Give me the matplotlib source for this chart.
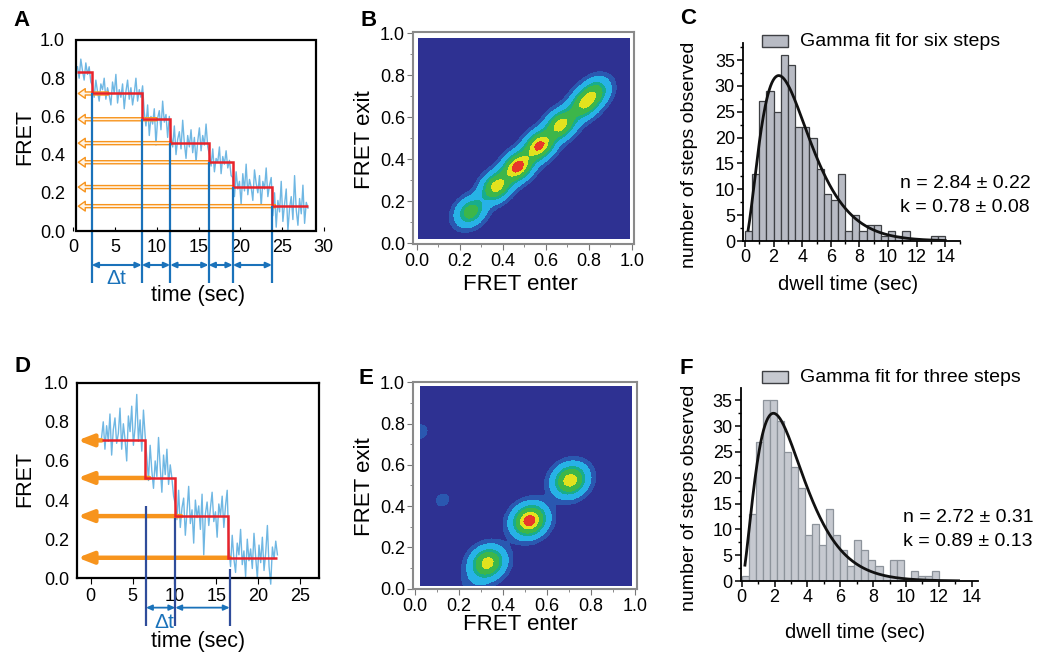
import math
import numpy as np
import matplotlib
matplotlib.use("Agg")
import matplotlib.pyplot as plt
from matplotlib.patches import FancyArrowPatch, Rectangle
from matplotlib.ticker import MultipleLocator

plt.rcParams['font.family'] = ['Liberation Sans', 'DejaVu Sans']

# ---------------- data ----------------
# Panel A: FRET trace (sampled every 0.2 s starting at 0.5 s)
A_t0, A_dt = 0.5, 0.2
A_fret = [0.86, 0.80, 0.90, 0.84, 0.79, 0.88, 0.82, 0.86, 0.78,
          0.76, 0.70, 0.79, 0.73, 0.68, 0.77, 0.74, 0.80, 0.69, 0.75, 0.71, 0.66, 0.78, 0.72, 0.82, 0.67,
          0.74, 0.70, 0.77, 0.64, 0.73, 0.79, 0.69, 0.75, 0.66, 0.72, 0.80, 0.68, 0.74, 0.70, 0.76,
          0.62, 0.55, 0.66, 0.50, 0.60, 0.56, 0.64, 0.45, 0.59, 0.63, 0.53, 0.68, 0.57, 0.61, 0.49, 0.60,
          0.50, 0.44, 0.55, 0.40, 0.48, 0.52, 0.43, 0.58, 0.46, 0.38, 0.50, 0.44, 0.53, 0.41, 0.49, 0.36,
          0.47, 0.54, 0.42, 0.50, 0.45, 0.56, 0.44,
          0.40, 0.34, 0.43, 0.31, 0.38, 0.36, 0.44, 0.30, 0.39, 0.35, 0.42, 0.33, 0.37, 0.29,
          0.28, 0.18, 0.31, 0.22, 0.26, 0.14, 0.30, 0.21, 0.35, 0.19, 0.27, 0.23, 0.16, 0.32, 0.25, 0.20,
          0.29, 0.13, 0.26, 0.22, 0.33, 0.18, 0.24, 0.28,
          0.08, 0.20, 0.02, 0.16, 0.10, 0.26, 0.05, 0.14, 0.22, 0.00, 0.12, 0.18, 0.06, 0.29, 0.11, 0.03,
          0.17, 0.09, 0.24, 0.04, 0.15, 0.12]
A_step_edges = [0.5, 2.2, 8.2, 11.6, 16.2, 19.1, 23.8, 28.1]
A_step_levels = [0.83, 0.72, 0.585, 0.46, 0.36, 0.23, 0.13]
A_arrow_levels = [0.72, 0.585, 0.46, 0.36, 0.23, 0.13]
A_arrow_starts = [4.2, 10.0, 11.8, 16.4, 19.2, 24.2]

# Panel D: FRET trace (sampled every 0.2 s starting at 1.3 s)
D_t0, D_dt = 1.3, 0.2
D_fret = [0.72, 0.80, 0.66, 0.78, 0.70, 0.84, 0.63, 0.76, 0.82, 0.69, 0.74, 0.87, 0.66, 0.79, 0.71,
          0.60, 0.83, 0.75, 0.88, 0.68, 0.77, 0.94, 0.70, 0.81, 0.65, 0.86, 0.73,
          0.62, 0.50, 0.68, 0.55, 0.46, 0.60, 0.52, 0.72, 0.57, 0.44, 0.63, 0.53, 0.66, 0.48, 0.58, 0.51, 0.42,
          0.38, 0.30, 0.45, 0.26, 0.36, 0.41, 0.22, 0.34, 0.47, 0.28, 0.35, 0.18, 0.40, 0.31, 0.37, 0.25,
          0.43, 0.12, 0.33, 0.39, 0.27, 0.36, 0.44, 0.29, 0.34, 0.21, 0.38, 0.32, 0.42, 0.26, 0.37, 0.45,
          0.16, 0.06, 0.22, 0.10, 0.03, 0.18, 0.12, 0.25, 0.07, 0.14, 0.01, 0.20, 0.09, 0.15, 0.05, 0.23,
          0.11, 0.00, 0.17, 0.08, 0.21, 0.04, 0.13, 0.27, 0.06, -0.03, 0.16, 0.10, 0.19, 0.12]
D_step_edges = [1.3, 6.5, 10.1, 16.4, 22.3]
D_step_levels = [0.705, 0.513, 0.318, 0.105]
D_arrow_starts = [1.3, 7.0, 10.8, 16.6]
D_dwell_marks = [6.6, 10.1, 16.6]
D_dwell_tops = [0.37, 0.31, 0.05]

# Panels B / E: TDP peak centres (FRET enter, FRET exit), relative intensity
B_x = [0.25, 0.37, 0.47, 0.57, 0.67, 0.775, 0.83]
B_y = [0.15, 0.27, 0.365, 0.465, 0.565, 0.66, 0.72]
B_amp = [0.58, 0.80, 0.97, 0.93, 0.80, 0.64, 0.52]
E_x = [0.33, 0.52, 0.705, 0.02, 0.125, 0.27]
E_y = [0.125, 0.33, 0.525, 0.76, 0.43, 0.03]
E_amp = [0.80, 1.00, 0.84, 0.065, 0.06, 0.07]

# Panels C / F: dwell-time histograms
C_counts = [2, 13, 27, 29, 25, 36, 34, 22, 22, 20, 14, 9, 8, 13, 2, 5, 2, 3, 3, 1,
            2, 1, 2, 0, 0, 0, 1, 1]
C_range = (0.0, 14.0)
C_n, C_k, C_peak = 2.84, 0.78, 32.0
F_counts = [1, 13, 27, 35, 35, 31, 25, 22, 18, 9, 11, 7, 14, 9, 6, 3, 8, 6, 4, 3,
            1, 4, 4, 0, 2, 1, 1, 2]
F_range = (0.0, 12.0)
F_n, F_k, F_peak = 2.72, 0.89, 32.5

# ---------------- styling ----------------
W, H = 1049, 654
fig = plt.figure(figsize=(W / 100, H / 100), dpi=100)

TRACE = '#6fb7e3'
RED = '#e8232b'
ORANGE = '#f7941d'
BLUE = '#1a72ba'
NAVYLINE = '#2f4c9a'
TICK = 13


def add_ax(l, t, r, b):
    return fig.add_axes([l / W, 1 - b / H, (r - l) / W, (b - t) / H])


def ftext(x, y, s, **kw):
    kw.setdefault('ha', 'center')
    kw.setdefault('va', 'center')
    return fig.text(x / W, 1 - y / H, s, **kw)


# ================= Panel A =================
axA = add_ax(73.3, 40, 323.8, 231)
axA.set_xlim(0, 30)
axA.set_ylim(0, 1)
for s in axA.spines.values():
    s.set_visible(False)
axA.add_patch(Rectangle((0.32, 0), 29.07 - 0.32, 1.0, fill=False, ec='black', lw=1.6,
                        clip_on=False, zorder=5))
tA = A_t0 + A_dt * np.arange(len(A_fret))
axA.plot(tA, A_fret, color=TRACE, lw=1.0, zorder=2)
axA.stairs(A_step_levels, A_step_edges, baseline=None, color=RED, lw=1.8, zorder=4)
for y, x0 in zip(A_arrow_levels, A_arrow_starts):
    axA.add_patch(FancyArrowPatch((x0, y), (0.6, y),
                                  arrowstyle='simple,head_length=0.5,head_width=0.7,tail_width=0.22',
                                  mutation_scale=10, fc='#fff4e6', ec=ORANGE, lw=1.0,
                                  shrinkA=0, shrinkB=0, zorder=3))
dw_A = A_step_edges[1:-1]
axA.vlines(dw_A, -0.272, A_step_levels[1:], color=BLUE, lw=1.6, clip_on=False, zorder=4)
for x1, x2 in zip(dw_A[:-1], dw_A[1:]):
    axA.annotate('', xy=(x2, -0.178), xytext=(x1, -0.178), xycoords='data',
                 arrowprops=dict(arrowstyle='<|-|>,head_length=0.35,head_width=0.16', color=BLUE,
                                 lw=1.5, shrinkA=0, shrinkB=0), annotation_clip=False)
axA.set_xticks([0, 5, 10, 15, 20, 25, 30])
axA.set_yticks([0, 0.2, 0.4, 0.6, 0.8, 1.0])
axA.set_yticklabels(['0.0', '0.2', '0.4', '0.6', '0.8', '1.0'])
axA.tick_params(axis='x', direction='in', length=3, pad=6, labelsize=TICK)
axA.tick_params(axis='y', length=0, pad=6, labelsize=TICK)
ftext(25, 137, 'FRET', rotation=90, fontsize=15.5)
ftext(198, 296, 'time (sec)', fontsize=15.5)
ftext(116, 278, 'Δt', fontsize=15, color=BLUE)

# ================= Panel D =================
axD = add_ax(77.3, 382.7, 319.3, 578.3)
axD.set_xlim(-1.6, 27.3)
axD.set_ylim(0, 1)
for s in axD.spines.values():
    s.set_linewidth(1.6)
tD = D_t0 + D_dt * np.arange(len(D_fret))
axD.plot(tD, D_fret, color=TRACE, lw=1.0, zorder=2, clip_on=False)
axD.stairs(D_step_levels, D_step_edges, baseline=None, color=RED, lw=1.8, zorder=4)
for y, x0 in zip(D_step_levels, D_arrow_starts):
    axD.add_patch(FancyArrowPatch((x0, y), (-1.55, y),
                                  arrowstyle='-|>,head_length=0.9,head_width=0.35',
                                  mutation_scale=10, color=ORANGE, lw=3.2,
                                  shrinkA=0, shrinkB=0, zorder=3))
axD.vlines(D_dwell_marks, -0.244, D_dwell_tops, color=NAVYLINE, lw=1.6, clip_on=False, zorder=4)
for x1, x2 in zip(D_dwell_marks[:-1], D_dwell_marks[1:]):
    axD.annotate('', xy=(x2, -0.15), xytext=(x1, -0.15), xycoords='data',
                 arrowprops=dict(arrowstyle='<|-|>,head_length=0.35,head_width=0.16', color=BLUE,
                                 lw=1.3, shrinkA=0, shrinkB=0), annotation_clip=False)
axD.set_xticks([0, 5, 10, 15, 20, 25])
axD.set_yticks([0, 0.2, 0.4, 0.6, 0.8, 1.0])
axD.set_yticklabels(['0.0', '0.2', '0.4', '0.6', '0.8', '1.0'])
axD.tick_params(axis='x', direction='out', length=4, pad=3, labelsize=TICK)
axD.tick_params(axis='y', length=0, pad=6, labelsize=TICK)
ftext(25, 479, 'FRET', rotation=90, fontsize=15.5)
ftext(198, 642, 'time (sec)', fontsize=15.5)
ftext(164, 622, 'Δt', fontsize=15, color=BLUE)

# ================= Panels B and E (TDP maps) =================
tdp_levels = [-1, 0.05, 0.13, 0.33, 0.46, 0.70, 0.87, 10]
tdp_colors = ['#2e3192', '#2a58b0', '#27b2e6', '#18ad8c', '#3db64a', '#e2e21e', '#e8372a']


def density(px, py, amps, su, sv, X, Y):
    Z = np.zeros_like(X)
    for x0, y0, a in zip(px, py, amps):
        u = ((X - x0) + (Y - y0)) / np.sqrt(2)
        v = ((X - x0) - (Y - y0)) / np.sqrt(2)
        Z += a * np.exp(-0.5 * ((u / su) ** 2 + (v / sv) ** 2))
    return Z


def tdp_axes(ax):
    ax.set_facecolor('white')
    for s in ax.spines.values():
        s.set_color('#8a8a8a')
        s.set_linewidth(1.5)
    ax.xaxis.set_major_locator(MultipleLocator(0.2))
    ax.yaxis.set_major_locator(MultipleLocator(0.2))
    ax.xaxis.set_minor_locator(MultipleLocator(0.1))
    ax.yaxis.set_minor_locator(MultipleLocator(0.1))
    ax.xaxis.set_major_formatter(plt.FormatStrFormatter('%.1f'))
    ax.yaxis.set_major_formatter(plt.FormatStrFormatter('%.1f'))
    ax.tick_params(which='major', direction='out', length=4, color='#777777', labelsize=TICK, pad=2)
    ax.tick_params(which='minor', direction='out', length=2.5, color='#777777')


axB = add_ax(413.3, 32.3, 634, 244.3)
axB.set_xlim(-0.016, 1.01)
axB.set_ylim(-0.005, 1.005)
XB, YB = np.meshgrid(np.linspace(0.01, 0.99, 60), np.linspace(0.022, 0.975, 60))
ZB = density(B_x, B_y, B_amp, 0.05, 0.038, XB, YB)
axB.contourf(XB, YB, ZB, levels=tdp_levels, colors=tdp_colors)
tdp_axes(axB)
ftext(365, 140, 'FRET exit', rotation=90, fontsize=16)
ftext(520, 285, 'FRET enter', fontsize=16)

axE = add_ax(413.3, 381.7, 637.3, 589.3)
axE.set_xlim(-0.008, 1.01)
axE.set_ylim(-0.003, 1.003)
XE, YE = np.meshgrid(np.linspace(0.023, 0.985, 60), np.linspace(0.016, 0.98, 60))
ZE = density(E_x, E_y, E_amp, 0.052, 0.045, XE, YE)
axE.contourf(XE, YE, ZE, levels=tdp_levels, colors=tdp_colors)
tdp_axes(axE)
ftext(365, 487, 'FRET exit', rotation=90, fontsize=16)
ftext(520, 625, 'FRET enter', fontsize=16)


# ================= Panels C and F (histograms) =================
def hist_panel(ax, counts, rng, n, k, peak, ymax, fc, ec, t_start, t_end):
    nb = len(counts)
    edges = np.linspace(rng[0], rng[1], nb + 1)
    ax.bar(edges[:-1], counts, width=np.diff(edges), align='edge', color=fc,
           edgecolor=ec, linewidth=0.9, zorder=2)
    tp = (n - 1) / k
    amp = peak / (tp ** (n - 1) * math.exp(-k * tp))
    tt = np.linspace(t_start, t_end, 300)
    ax.plot(tt, amp * tt ** (n - 1) * np.exp(-k * tt), color='#111111', lw=2.0, zorder=3)
    ax.set_ylim(0, ymax)
    ax.spines['top'].set_visible(False)
    ax.spines['right'].set_visible(False)
    ax.spines['left'].set_linewidth(1.3)
    ax.spines['bottom'].set_linewidth(1.3)
    ax.set_xticks(range(0, 15, 2))
    ax.set_yticks(range(0, 36, 5))
    ax.xaxis.set_minor_locator(MultipleLocator(1))
    ax.yaxis.set_minor_locator(MultipleLocator(2.5))
    ax.tick_params(which='major', direction='out', length=4, width=1.1, labelsize=TICK, pad=2)
    ax.tick_params(which='minor', direction='out', length=2.5, width=1.0)


axC = add_ax(743.3, 43, 960, 241)
axC.set_xlim(-0.12, 15.03)
hist_panel(axC, C_counts, C_range, C_n, C_k, C_peak, 38.3, '#b8bbc4', '#3e4044', 0.22, 14.0)
ftext(690, 155, 'number of steps observed', rotation=90, fontsize=14)
ftext(848, 285, 'dwell time (sec)', fontsize=14.5)
ftext(900, 183, 'n = 2.84 ± 0.22', fontsize=14, ha='left')
ftext(900, 207, 'k = 0.78 ± 0.08', fontsize=14, ha='left')
fig.add_artist(Rectangle((762 / W, 1 - 47 / H), 26 / W, 12 / H, transform=fig.transFigure,
                         fc='#b8bbc4', ec='#3e4044', lw=1.0))
ftext(800, 41, 'Gamma fit for six steps', fontsize=14, ha='left')

axF = add_ax(741, 388, 978, 581)
axF.set_xlim(-0.04, 14.38)
hist_panel(axF, F_counts, F_range, F_n, F_k, F_peak, 37.4, '#c6c9d0', '#8d939b', 0.2, 13.2)
ftext(690, 498, 'number of steps observed', rotation=90, fontsize=14)
ftext(855, 632, 'dwell time (sec)', fontsize=14.5)
ftext(903, 518, 'n = 2.72 ± 0.31', fontsize=14, ha='left')
ftext(903, 542, 'k = 0.89 ± 0.13', fontsize=14, ha='left')
fig.add_artist(Rectangle((762 / W, 1 - 383 / H), 26 / W, 12 / H, transform=fig.transFigure,
                         fc='#c6c9d0', ec='#3e4044', lw=1.0))
ftext(800, 377, 'Gamma fit for three steps', fontsize=14, ha='left')

# panel letters
for letter, (x, y) in zip('ABCDEF', [(22, 20), (369, 20), (688, 19), (22, 366), (366, 378), (686, 368)]):
    ftext(x, y, letter, fontsize=16, fontweight='bold')

fig.savefig('out.png', dpi=100)
